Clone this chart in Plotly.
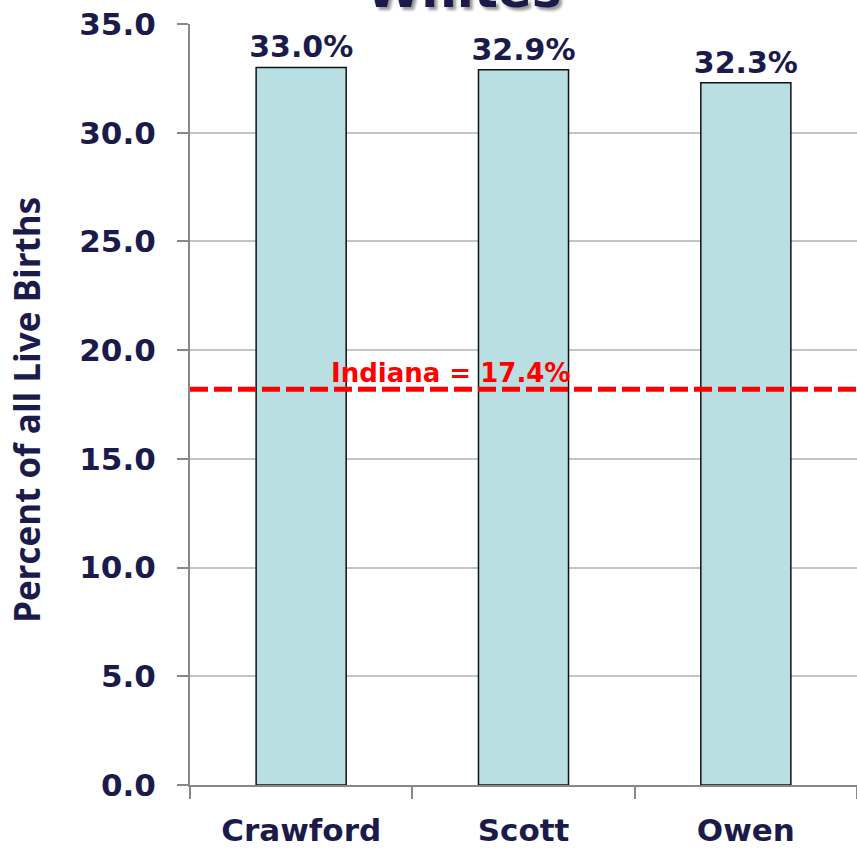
import plotly.graph_objects as go

counties = ["Crawford", "Scott", "Owen"]
percents = [33.0, 32.9, 32.3]
bar_labels = ["33.0%", "32.9%", "32.3%"]
indiana_line = 18.2
indiana_text = "Indiana = 17.4%"
y_ticks = [0, 5, 10, 15, 20, 25, 30, 35]
y_tick_labels = ["0.0", "5.0", "10.0", "15.0", "20.0", "25.0", "30.0", "35.0"]
title_text = "Whites"
y_title = "Percent of all Live Births"

NAVY = "#1b1b4b"
FONT = "DejaVu Sans"

fig = go.Figure()
fig.add_trace(go.Bar(
    x=counties, y=percents, text=bar_labels, textposition="outside",
    textfont=dict(family=FONT, size=30, color=NAVY, weight="bold"),
    constraintext="none",
    marker=dict(color="#b9dfe2", line=dict(color="#111111", width=1.5)),
    width=0.405, cliponaxis=False,
))

fig.add_shape(type="line", xref="paper", x0=0, x1=1, yref="y",
              y0=indiana_line, y1=indiana_line,
              line=dict(color="#ff0000", width=5, dash="18px,6px"))

fig.add_annotation(text=indiana_text, xref="paper", x=0.39, yref="y", y=indiana_line,
                   yanchor="bottom", showarrow=False, yshift=-1,
                   font=dict(family=FONT, size=26, color="#ff0000", weight="bold"))

fig.add_annotation(text=y_title, xref="paper", x=-0.244, yref="paper", y=0.493,
                   textangle=-90, showarrow=False, xanchor="center", yanchor="middle",
                   font=dict(family="Open Sans", size=35, color=NAVY, weight="bold"))

fig.add_annotation(text=title_text, xref="paper", x=0.41, yref="paper", y=1.0,
                   yanchor="bottom", showarrow=False, yshift=3,
                   font=dict(family=FONT, size=50, color=NAVY, weight="bold",
                             shadow="3px 3px 3px #999999"))

fig.update_layout(
    width=857, height=850,
    margin=dict(l=190, r=0, t=24, b=65, autoexpand=False),
    plot_bgcolor="white", paper_bgcolor="white",
    showlegend=False,
    bargap=0.6,
)
fig.update_xaxes(
    showline=True, linecolor="#888888", linewidth=2,
    ticks="outside", tickson="boundaries", ticklen=12, tickcolor="#888888", tickwidth=2,
    tickfont=dict(family=FONT, size=31, color=NAVY, weight="bold"),
    ticklabelstandoff=17,
)
fig.update_yaxes(
    range=[0, 35], tickvals=y_ticks, ticktext=y_tick_labels,
    showline=True, linecolor="#888888", linewidth=2,
    ticks="outside", ticklen=11, tickcolor="#888888", tickwidth=2,
    showgrid=True, gridcolor="#c4c4c4", gridwidth=2,
    zeroline=False,
    tickfont=dict(family=FONT, size=31, color=NAVY, weight="bold"),
    ticklabelstandoff=15,
)

fig.write_html("out.html", config={"displayModeBar": False},
               post_script="document.body.style.margin='0';")
